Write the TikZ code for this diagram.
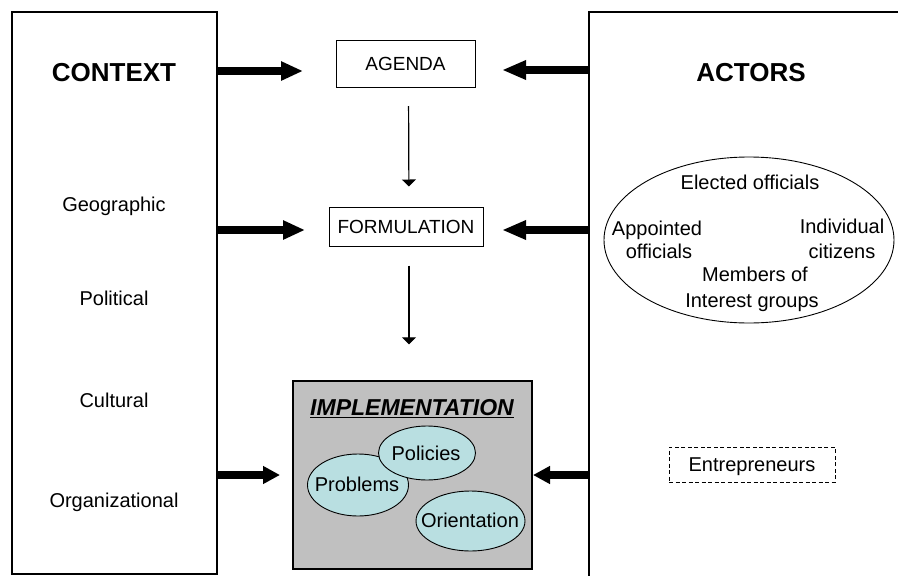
\documentclass[tikz,border=0pt]{standalone}
\usepackage{fontspec}
\setmainfont{Liberation Sans}
\usetikzlibrary{arrows.meta,shapes.geometric}
\definecolor{implgray}{RGB}{192,192,192}
\definecolor{lcyan}{RGB}{185,223,225}
\tikzset{
  txt/.style={inner sep=0pt, text height=14.3pt, text depth=0pt, font=\fontsize{20}{24}\selectfont},
  boxtxt/.style={draw, line width=1pt, inner sep=0pt, text height=13.6pt, text depth=0pt, font=\fontsize{19}{23}\selectfont},
  bigbox/.style={draw, line width=1.3pt, inner sep=0pt},
  fat/.style={line width=8pt, -{Triangle[length=22pt,width=18pt]}},
  fatshort/.style={line width=8pt, -{Triangle[length=17pt,width=17pt]}},
  thinarr/.style={line width=1.2pt, -{Triangle[length=7pt,width=14pt]}},
  oval/.style={ellipse, draw, line width=0.9pt, fill=lcyan, inner sep=0pt},
  head/.style={inner sep=0pt, text height=18.6pt, text depth=0pt, font=\fontsize{26}{30}\selectfont\bfseries}
}
\begin{document}
\begin{tikzpicture}[x=1pt,y=-1pt]
\useasboundingbox (0,0) rectangle (898,576);
\clip (0,0) rectangle (898,576);
\fill[white] (0,0) rectangle (898,576);

% side boxes
\node[bigbox, minimum width=205pt, minimum height=562pt] (ctx) at (114.5,293) {};
\node[bigbox, minimum width=340pt, minimum height=600pt] (act) at (759,312) {};

\node[head] (ctxt) at (114,72) {CONTEXT};
\node[head] (actt) at (751,72) {ACTORS};

\node[txt] (geo) at (114,204) {Geographic};
\node[txt] (pol) at (114,298) {Political};
\node[txt] (cul) at (114,400) {Cultural};
\node[txt] (org) at (114,500) {Organizational};

% central boxes
\node[boxtxt, minimum width=139pt, minimum height=47pt] (agenda) at (405.5,64) {AGENDA};
\node[boxtxt, minimum width=154pt, minimum height=39pt] (form) at (406,226.5) {FORMULATION};

\node[bigbox, fill=implgray, minimum width=239pt, minimum height=188pt] (impl) at (412.5,475) {};
\node[inner sep=0pt, font=\fontsize{23}{27}\selectfont\bfseries\itshape] (implt) at (412,409) {\underline{IMPLEMENTATION}};

\node[oval, minimum width=101pt, minimum height=62pt] (prob) at (358,485) {};
\node[oval, minimum width=97pt, minimum height=54pt] (poli) at (427,453) {};
\node[oval, minimum width=109pt, minimum height=60pt] (orie) at (470.5,521) {};
\node[txt] (probt) at (357,484) {Problems};
\node[txt] (polit) at (426,453.5) {Policies};
\node[txt] (oriet) at (470,520) {Orientation};

% actors ellipse
\node[ellipse, draw, line width=0.9pt, minimum width=290pt, minimum height=166pt, inner sep=0pt] (actell) at (749,240) {};
\node[txt] (elec) at (750,182) {Elected officials};
\node[txt] (app1) at (657,228) {Appointed};
\node[txt] (app2) at (659,251.5) {officials};
\node[txt] (ind1) at (842,226) {Individual};
\node[txt] (ind2) at (842,251) {citizens};
\node[txt] (mem1) at (755,274.5) {Members of};
\node[txt] (mem2) at (752,300) {Interest groups};

\node[boxtxt, dashed, dash pattern=on 4pt off 2.5pt, minimum width=166pt, minimum height=35pt, font=\fontsize{20}{24}\selectfont, text height=14.3pt] (entr) at (752,464.5) {Entrepreneurs};

% arrow end points
\coordinate (t1) at (303,71);
\coordinate (t2) at (502,70);
\coordinate (t3) at (305,230);
\coordinate (t4) at (502,230);
\coordinate (t5) at (280,475);
\coordinate (t6) at (533,475);

\draw[fat] (ctx.east |- t1) -- (t1);
\draw[fat,-{Triangle[length=24pt,width=18pt]}] (act.west |- t2) -- (t2);
\draw[fat] (ctx.east |- t3) -- (t3);
\draw[fat,-{Triangle[length=24pt,width=18pt]}] (act.west |- t4) -- (t4);
\draw[fatshort] (ctx.east |- t5) -- (t5);
\draw[fatshort] (act.west |- t6) -- (t6);

\draw[thinarr, shorten <=18pt, shorten >=20pt] ([xshift=3pt]agenda.south) -- ([xshift=3pt]form.north);
\draw[thinarr, shorten <=19pt, shorten >=36pt] ([xshift=3pt]form.south) -- ([xshift=-3.5pt]impl.north);
\end{tikzpicture}
\end{document}
